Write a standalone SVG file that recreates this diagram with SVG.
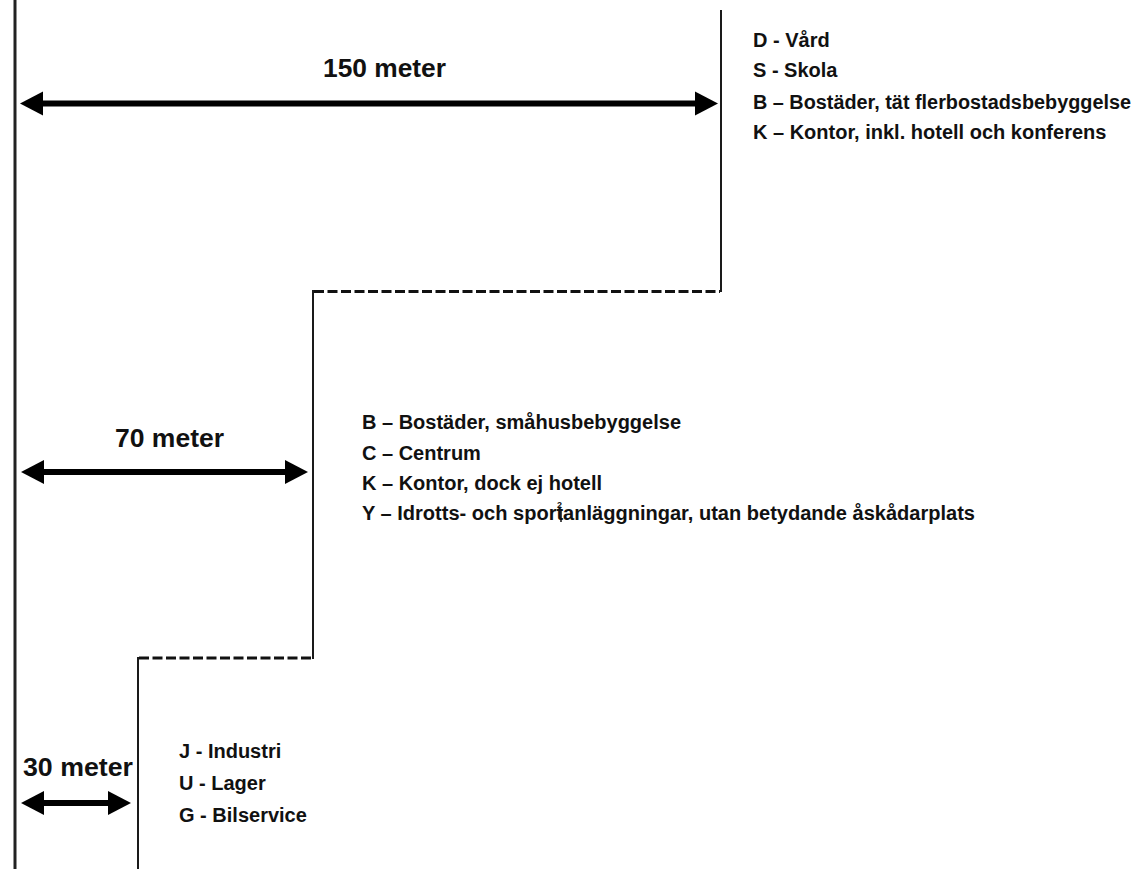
<svg xmlns="http://www.w3.org/2000/svg" width="1142" height="869" viewBox="0 0 1142 869">
  <style>
    .edge { stroke: #1a1a1a; stroke-width: 2; fill: none; }
    .axis { stroke: #222; stroke-width: 3; fill: none; }
    .dash { stroke: #111; stroke-width: 3; fill: none; stroke-dasharray: 10 3.5; }
    .dim { stroke: #000; stroke-width: 6; fill: none; }
    .head { fill: #000; }
    .lbl { font-family: "Liberation Sans", Arial, sans-serif; font-weight: bold; font-size: 26.5px; fill: #111; }
    .item { font-family: "Liberation Sans", Arial, sans-serif; font-weight: bold; font-size: 20px; fill: #111; }
    .mark { font-family: "Liberation Sans", Arial, sans-serif; font-weight: bold; font-size: 9px; fill: #111; }
  </style>
  <defs>
    <polygon id="ahead" class="head" points="0,0 23,-12 23,12"/>
  </defs>
  <rect width="1142" height="869" fill="#fff"/>

  <!-- zone boundaries and dimension arrows -->
  <g id="connectors">
    <line class="axis" x1="15" y1="0" x2="15" y2="869"/>
    <line class="edge" x1="721" y1="10" x2="721" y2="292"/>
    <line class="dash" x1="314" y1="291.5" x2="720" y2="291.5"/>
    <line class="edge" x1="313" y1="290" x2="313" y2="659"/>
    <line class="dash" x1="139" y1="658" x2="312" y2="658"/>
    <line class="edge" x1="138" y1="657" x2="138" y2="869"/>

    <line class="dim" x1="40" y1="103.5" x2="698" y2="103.5"/>
    <use href="#ahead" transform="translate(20,103.5)"/>
    <use href="#ahead" transform="translate(718,103.5) rotate(180)"/>

    <line class="dim" x1="40" y1="472" x2="288" y2="472"/>
    <use href="#ahead" transform="translate(21,472)"/>
    <use href="#ahead" transform="translate(308,472) rotate(180)"/>

    <line class="dim" x1="40" y1="803" x2="111" y2="803"/>
    <use href="#ahead" transform="translate(21,803)"/>
    <use href="#ahead" transform="translate(131,803) rotate(180)"/>
  </g>

  <g id="zone-150">
    <text class="lbl" x="323" y="77" textLength="123" lengthAdjust="spacingAndGlyphs">150 meter</text>
    <text class="item" x="753" y="47">D - Vård</text>
    <text class="item" x="753" y="77">S - Skola</text>
    <text class="item" x="753" y="109" textLength="378" lengthAdjust="spacingAndGlyphs">B – Bostäder, tät flerbostadsbebyggelse</text>
    <text class="item" x="753" y="139">K – Kontor, inkl. hotell och konferens</text>
  </g>

  <g id="zone-70">
    <text class="lbl" x="115" y="447" textLength="109" lengthAdjust="spacingAndGlyphs">70 meter</text>
    <text class="item" x="362" y="429">B – Bostäder, småhusbebyggelse</text>
    <text class="item" x="362" y="460">C – Centrum</text>
    <text class="item" x="362" y="490">K – Kontor, dock ej hotell</text>
    <text class="item" x="362" y="520" textLength="613" lengthAdjust="spacingAndGlyphs">Y – Idrotts- och sportanläggningar, utan betydande åskådarplats</text>
    <text class="mark" x="557" y="508">2</text>
    <line x1="561" y1="509" x2="561" y2="522" stroke="#111" stroke-width="1.5"/>
  </g>

  <g id="zone-30">
    <text class="lbl" x="23" y="776" textLength="110" lengthAdjust="spacingAndGlyphs">30 meter</text>
    <text class="item" x="179" y="758" font-size="19.5">J - Industri</text>
    <text class="item" x="179" y="790" font-size="19.5">U - Lager</text>
    <text class="item" x="179" y="822" font-size="19.5">G - Bilservice</text>
  </g>
</svg>
